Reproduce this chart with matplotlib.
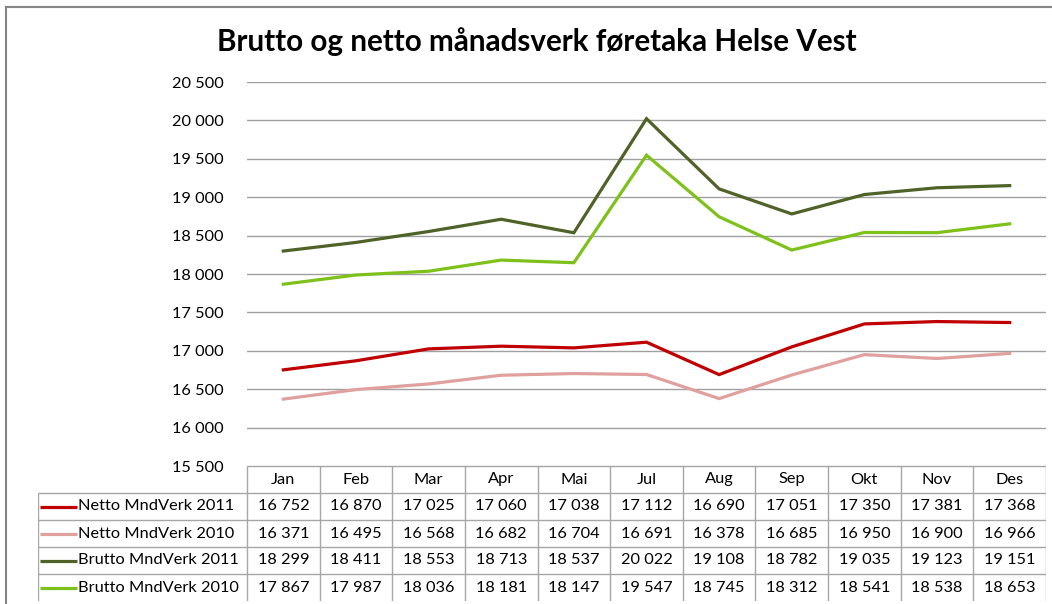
import matplotlib
matplotlib.use("Agg")
import matplotlib.pyplot as plt
from matplotlib.lines import Line2D

plt.rcParams['font.family'] = ['Lato', 'DejaVu Sans']

# data
months = ['Jan', 'Feb', 'Mar', 'Apr', 'Mai', 'Jul', 'Aug', 'Sep', 'Okt', 'Nov', 'Des']
netto_2011 = [16752, 16870, 17025, 17060, 17038, 17112, 16690, 17051, 17350, 17381, 17368]
netto_2010 = [16371, 16495, 16568, 16682, 16704, 16691, 16378, 16685, 16950, 16900, 16966]
brutto_2011 = [18299, 18411, 18553, 18713, 18537, 20022, 19108, 18782, 19035, 19123, 19151]
brutto_2010 = [17867, 17987, 18036, 18181, 18147, 19547, 18745, 18312, 18541, 18538, 18653]

series_names = ['Netto MndVerk 2011', 'Netto MndVerk 2010', 'Brutto MndVerk 2011', 'Brutto MndVerk 2010']
series_data = [netto_2011, netto_2010, brutto_2011, brutto_2010]
series_colors = ['#C00000', '#E0A09E', '#4F6228', '#7DC11A']
y_ticks = list(range(15500, 21000, 500))


def fmt(v):
    s = f'{v:,}'.replace(',', ' ')
    return s


W, H = 1052, 604
fig = plt.figure(figsize=(W / 100, H / 100), dpi=100)

# pixel layout
plot_l, plot_r = 247, 1046
plot_t, plot_b = 82, 466
tab_l, tab_b = 38, 601
col_w = (plot_r - plot_l) / len(months)

ax = fig.add_axes([plot_l / W, 1 - plot_b / H, (plot_r - plot_l) / W, (plot_b - plot_t) / H])
x = list(range(len(months)))
for name, vals, c in zip(series_names, series_data, series_colors):
    ax.plot(x, vals, color=c, lw=2.3, label=name, solid_joinstyle='miter')

ax.set_xlim(-0.5, len(months) - 0.5)
ax.set_ylim(15500, 20500)
ax.set_yticks(y_ticks)
ax.set_yticklabels([fmt(v) for v in y_ticks], fontsize=11.8)
ax.set_xticks([])
ax.tick_params(axis='y', length=0, pad=17)
ax.grid(axis='y', color='#A0A0A0', lw=1)
ax.set_axisbelow(True)
for s in ax.spines.values():
    s.set_visible(False)

fig.text(537 / W, 1 - 42 / H, 'Brutto og netto månadsverk føretaka Helse Vest',
         ha='center', va='center', fontsize=21.3, fontweight='bold')

# data table with legend keys
lab_w = (plot_l - tab_l) / col_w
n_rows = len(series_names) + 1
tax = fig.add_axes([tab_l / W, 1 - tab_b / H, (plot_r - tab_l) / W, (tab_b - plot_b) / H])
tax.set_xlim(-0.5 - lab_w, len(months) - 0.5)
tax.set_ylim(n_rows, 0)
tax.axis('off')
gc = '#A6A6A6'
tax.hlines(0, -0.5, len(months) - 0.5, color=gc, lw=1)
tax.hlines(range(1, n_rows), -0.5 - lab_w, len(months) - 0.5, color=gc, lw=1)
tax.vlines([k - 0.5 for k in range(len(months) + 1)], 0, n_rows, color=gc, lw=1)
tax.vlines(-0.5 - lab_w, 1, n_rows, color=gc, lw=1)

for i, m in enumerate(months):
    tax.text(i, 0.5, m, ha='center', va='center', fontsize=11.8)
px = 1 / col_w
for r, (name, vals, c) in enumerate(zip(series_names, series_data, series_colors)):
    yc = r + 1.5
    x0 = -0.5 - lab_w
    tax.plot([x0 + 2 * px, x0 + 39 * px], [yc, yc], color=c, lw=2.3, solid_capstyle='butt')
    tax.text(x0 + 40 * px, yc, name, ha='left', va='center', fontsize=11.8)
    for i, v in enumerate(vals):
        tax.text(i, yc, fmt(v), ha='center', va='center', fontsize=11.8)

# outer chart frame (left and top edges visible)
fig.add_artist(Line2D([6 / W, 6 / W], [0, 1 - 7 / H], transform=fig.transFigure, color='#858585', lw=1.5))
fig.add_artist(Line2D([6 / W, 1], [1 - 7 / H, 1 - 7 / H], transform=fig.transFigure, color='#858585', lw=1.5))

fig.savefig('out.png', dpi=100)
